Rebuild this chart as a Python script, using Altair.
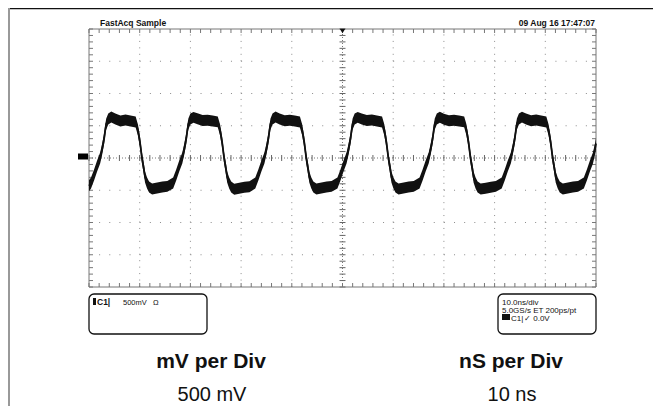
import altair as alt
import pandas as pd

# ---- waveform readings (time in ns from left graticule edge, voltage in mV) ----
TIME_NS = [
    0.0,
    0.4, 1.0, 1.6, 2.2, 2.6, 3.0, 3.2, 3.4, 3.8, 4.4, 5.2, 6.2, 7.2, 8.2, 9.2,
    9.65, 10.05, 10.45, 10.85, 11.05, 11.45, 11.85, 12.45, 13.45, 14.45, 15.45,
    16.6, 17.2, 17.8, 18.4, 18.8, 19.2, 19.4, 19.6, 20.0, 20.6, 21.4, 22.4, 23.4, 24.4, 25.4,
    25.85, 26.25, 26.65, 27.05, 27.25, 27.65, 28.05, 28.65, 29.65, 30.65, 31.65,
    32.8, 33.4, 34.0, 34.6, 35.0, 35.4, 35.6, 35.8, 36.2, 36.8, 37.6, 38.6, 39.6, 40.6, 41.6,
    42.05, 42.45, 42.85, 43.25, 43.45, 43.85, 44.25, 44.85, 45.85, 46.85, 47.85,
    49.0, 49.6, 50.2, 50.8, 51.2, 51.6, 51.8, 52.0, 52.4, 53.0, 53.8, 54.8, 55.8, 56.8, 57.8,
    58.25, 58.65, 59.05, 59.45, 59.65, 60.05, 60.45, 61.05, 62.05, 63.05, 64.05,
    65.2, 65.8, 66.4, 67.0, 67.4, 67.8, 68.0, 68.2, 68.6, 69.2, 70.0, 71.0, 72.0, 73.0, 74.0,
    74.45, 74.85, 75.25, 75.65, 75.85, 76.25, 76.65, 77.25, 78.25, 79.25, 80.25,
    81.4, 82.0, 82.6, 83.2, 83.6, 84.0, 84.2, 84.4, 84.8, 85.4, 86.2, 87.2, 88.2, 89.2, 90.2,
    90.65, 91.05, 91.45, 91.85, 92.05, 92.45, 92.85, 93.45, 94.45, 95.45, 96.45,
    97.6, 98.2, 98.8, 99.4, 99.8, 100.0,
]
VOLT_MV = [
    -430,
    -388, -264, -124, 0, 140, 310, 434, 527, 605, 636, 605, 574, 589, 574, 558,
    434, 248, 0, -186, -295, -388, -450, -480, -465, -450, -440,
    -388, -264, -124, 0, 140, 310, 434, 527, 605, 630, 610, 580, 585, 574, 560,
    434, 248, 0, -186, -295, -388, -450, -485, -470, -455, -445,
    -388, -264, -124, 0, 140, 310, 434, 527, 605, 636, 605, 578, 585, 574, 558,
    434, 248, 0, -186, -295, -388, -450, -480, -465, -450, -440,
    -388, -264, -124, 0, 140, 310, 434, 527, 605, 630, 605, 580, 589, 574, 558,
    434, 248, 0, -186, -295, -388, -450, -480, -465, -450, -440,
    -388, -264, -124, 0, 140, 310, 434, 527, 605, 632, 600, 578, 586, 574, 560,
    434, 248, 0, -186, -295, -388, -450, -482, -468, -452, -440,
    -388, -264, -124, 0, 140, 310, 434, 527, 605, 634, 605, 576, 588, 574, 558,
    434, 248, 0, -186, -295, -388, -450, -480, -465, -450, -440,
    -388, -264, -124, 0, 140, 225,
]

# graticule: 10 x 10 ns, 8 x 500 mV
MAJOR_T = [0, 10, 20, 30, 40, 50, 60, 70, 80, 90, 100]
MAJOR_V = [-2000, -1500, -1000, -500, 0, 500, 1000, 1500, 2000]
MINOR_T = list(range(0, 101, 2))
MINOR_V = list(range(-2000, 2001, 100))

HEADER_LEFT = "FastAcq Sample"
HEADER_RIGHT = "09 Aug 16 17:47:07"
CH_NAME = "C1"
CH_SCALE = "500mV"
CH_COUPLING = "Ω"
TB_LINE1 = "10.0ns/div"
TB_LINE2 = "5.0GS/s ET 200ps/pt"
TB_TRIG = "✓ 0.0V"
LABEL_V = "mV per Div"
VALUE_V = "500 mV"
LABEL_T = "nS per Div"
VALUE_T = "10 ns"

W, H = 645, 398
xs = alt.Scale(domain=[0, 100], range=[81, 588], nice=False, zero=False)
ys = alt.Scale(domain=[-2000, 2000], range=[279, 21], nice=False, zero=False)
FONT = "Liberation Sans"
GRID = "#8c8c8c"


def X(f):
    return alt.X(f, scale=xs, axis=None)


def Y(f):
    return alt.Y(f, scale=ys, axis=None)


one = pd.DataFrame({"a": [0]})

# interior dotted grid
vgrid = pd.DataFrame({"t": [t for t in MAJOR_T if t not in (0, 50, 100)]})
vgrid["v0"] = MAJOR_V[0]
vgrid["v1"] = MAJOR_V[-1]
hgrid = pd.DataFrame({"v": [v for v in MAJOR_V if v not in (-2000, 0, 2000)]})
hgrid["t0"] = MAJOR_T[0]
hgrid["t1"] = MAJOR_T[-1]

vgrid_l = alt.Chart(vgrid).mark_rule(color=GRID, strokeWidth=1, strokeDash=[1, 5.45]).encode(
    x=X("t:Q"), y=Y("v0:Q"), y2="v1:Q")
hgrid_l = alt.Chart(hgrid).mark_rule(color=GRID, strokeWidth=1, strokeDash=[1, 9.14]).encode(
    y=Y("v:Q"), x=X("t0:Q"), x2="t1:Q")

# centre cross-hair
cx = pd.DataFrame({"t": [50], "v0": [-2000], "v1": [2000]})
cy = pd.DataFrame({"v": [0], "t0": [0], "t1": [100]})
cx_l = alt.Chart(cx).mark_rule(color="#777", strokeWidth=1, strokeDash=[1, 2]).encode(
    x=X("t:Q"), y=Y("v0:Q"), y2="v1:Q")
cy_l = alt.Chart(cy).mark_rule(color="#777", strokeWidth=1, strokeDash=[1, 2]).encode(
    y=Y("v:Q"), x=X("t0:Q"), x2="t1:Q")

tick_h = pd.DataFrame({"t": MINOR_T, "v": 0})
tick_v = pd.DataFrame({"t": 50, "v": MINOR_V})
cth = alt.Chart(tick_h).mark_tick(orient="vertical", size=6, thickness=1, color="#666", opacity=1).encode(
    x=X("t:Q"), y=Y("v:Q"))
ctv = alt.Chart(tick_v).mark_tick(orient="horizontal", size=6, thickness=1, color="#666", opacity=1).encode(
    x=X("t:Q"), y=Y("v:Q"))

# border ticks (inward)
top_t = pd.DataFrame({"t": MINOR_T, "v": 2000})
bot_t = pd.DataFrame({"t": MINOR_T, "v": -2000})
lef_t = pd.DataFrame({"t": 0, "v": MINOR_V})
rig_t = pd.DataFrame({"t": 100, "v": MINOR_V})
bt1 = alt.Chart(top_t).mark_tick(orient="vertical", size=4, thickness=1, color="#777", opacity=1, yOffset=2).encode(
    x=X("t:Q"), y=Y("v:Q"))
bt2 = alt.Chart(bot_t).mark_tick(orient="vertical", size=4, thickness=1, color="#777", opacity=1, yOffset=-2).encode(
    x=X("t:Q"), y=Y("v:Q"))
bt3 = alt.Chart(lef_t).mark_tick(orient="horizontal", size=4, thickness=1, color="#777", opacity=1, xOffset=2).encode(
    x=X("t:Q"), y=Y("v:Q"))
bt4 = alt.Chart(rig_t).mark_tick(orient="horizontal", size=4, thickness=1, color="#777", opacity=1, xOffset=-2).encode(
    x=X("t:Q"), y=Y("v:Q"))

border = pd.DataFrame({"t0": [0], "t1": [100], "v0": [-2000], "v1": [2000]})
border_l = alt.Chart(border).mark_rect(fillOpacity=0, stroke="#777", strokeWidth=1).encode(
    x=X("t0:Q"), x2="t1:Q", y=Y("v0:Q"), y2="v1:Q")

# waveform
wave = pd.DataFrame({"t": TIME_NS, "v": VOLT_MV})
band = alt.Chart(wave).transform_calculate(hi="datum.v + 85", lo="datum.v - 85").mark_area(
    color="#111", opacity=1).encode(x=X("t:Q"), y=Y("hi:Q"), y2="lo:Q")
line = alt.Chart(wave).mark_line(color="#111", strokeWidth=1.8).encode(x=X("t:Q"), y=Y("v:Q"))

# markers
trig = alt.Chart(pd.DataFrame({"t": [50], "v": [2000]})).mark_point(
    shape="triangle-down", filled=True, size=30, color="#111", opacity=1, yOffset=2).encode(
    x=X("t:Q"), y=Y("v:Q"))
gnd = alt.Chart(pd.DataFrame({"v": [0]})).mark_tick(
    orient="horizontal", size=10, thickness=6, color="#000", opacity=1, yOffset=-1.5).encode(
    x=alt.value(75), y=Y("v:Q"))


def txt(s, x, y, size, weight="normal", align="left", color="#111"):
    return alt.Chart(pd.DataFrame({"s": [s]})).mark_text(
        align=align, baseline="alphabetic", fontSize=size, fontWeight=weight,
        font=FONT, color=color).encode(x=alt.value(x), y=alt.value(y), text="s:N")


def box(x0, x1, y0, y1):
    return alt.Chart(one).mark_rect(fillOpacity=0, stroke="#111", strokeWidth=1.3, cornerRadius=5).encode(
        x=alt.value(x0), x2=alt.value(x1), y=alt.value(y0), y2=alt.value(y1))


def solid(x0, x1, y0, y1):
    return alt.Chart(one).mark_rect(color="#111", opacity=1).encode(
        x=alt.value(x0), x2=alt.value(x1), y=alt.value(y0), y2=alt.value(y1))


frame_top = alt.Chart(one).mark_rule(color="#111", strokeWidth=1.5).encode(
    x=alt.value(0), x2=alt.value(W), y=alt.value(0.5))
frame_left = alt.Chart(one).mark_rule(color="#999", strokeWidth=2).encode(
    x=alt.value(1), y=alt.value(0), y2=alt.value(H))

layers = [
    frame_top, frame_left,
    vgrid_l, hgrid_l, cx_l, cy_l, cth, ctv, bt1, bt2, bt3, bt4, border_l,
    band, line, trig, gnd,
    txt(HEADER_LEFT, 92, 18, 8.5, "bold"),
    txt(HEADER_RIGHT, 587, 18, 8.5, "bold", align="right"),
    box(81, 199, 286, 326),
    solid(85, 88, 290, 297),
    txt(CH_NAME + "|", 89, 297, 8.5, "bold"),
    txt(CH_SCALE, 115, 297, 7.5),
    txt(CH_COUPLING, 145, 297, 7.5),
    box(490, 588, 286, 326),
    txt(TB_LINE1, 494, 297, 8),
    txt(TB_LINE2, 494, 305, 8),
    solid(494, 502, 306, 312),
    txt(CH_NAME + "|", 503, 312.5, 8),
    txt(TB_TRIG, 516, 312.5, 8),
    txt(LABEL_V, 203, 360, 21, "bold", align="center"),
    txt(VALUE_V, 204, 393, 20, align="center"),
    txt(LABEL_T, 503, 360, 21, "bold", align="center"),
    txt(VALUE_T, 504, 393, 20, align="center"),
]

chart = alt.layer(*layers).properties(
    width=W, height=H, padding=0, autosize="none"
).configure_view(strokeWidth=0).configure(background="white")

chart.save("out.html", embed_options={"renderer": "svg", "actions": False})
